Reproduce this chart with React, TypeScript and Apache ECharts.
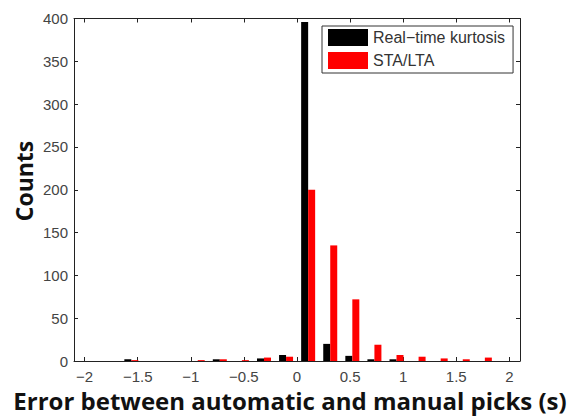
import React, { useEffect, useRef } from "react";
import * as echarts from "echarts";

const binCenters = [-1.56, -0.935, -0.727, -0.519, -0.311, -0.103, 0.105, 0.313, 0.521, 0.729, 0.937, 1.145, 1.353, 1.561, 1.769];
const kurtosisCounts = [2, 0, 2, 0, 3, 7, 396, 20, 6, 2, 2, 0, 0, 0, 0];
const staLtaCounts = [1, 1, 2, 1, 4, 5, 200, 135, 72, 19, 7, 5, 3, 2, 4];
const xTicks = [-2, -1.5, -1, -0.5, 0, 0.5, 1, 1.5, 2];
const seriesNames = ["Real\u2212time kurtosis", "STA/LTA"];
const xTitle = "Error between automatic and manual picks (s)";
const yTitle = "Counts";

const fmt = (v: number) => (v < 0 ? "\u2212" + String(Math.abs(v)) : String(v));

export default function App() {
  const ref = useRef<HTMLDivElement>(null);
  useEffect(() => {
    if (!ref.current) return;
    const chart = echarts.init(ref.current, null, { renderer: "svg" });
    const axisLine = { show: true, onZero: false, lineStyle: { color: "#222", width: 1 } };
    const tick = { show: true, inside: true, length: 4, lineStyle: { color: "#222" } };
    const labelStyle = { fontFamily: "Liberation Sans", fontSize: 15, color: "#444" };
    chart.setOption({
      animation: false,
      backgroundColor: "#fff",
      grid: { left: 74, right: 57, top: 18.5, bottom: 56, containLabel: false },
      legend: {
        orient: "vertical",
        left: 322,
        top: 26,
        itemWidth: 40,
        itemHeight: 17,
        itemGap: 6,
        padding: [3, 8, 4, 6],
        borderColor: "#333",
        borderWidth: 1,
        backgroundColor: "#fff",
        icon: "rect",
        textStyle: { fontFamily: "Liberation Sans", fontSize: 16, color: "#333" },
        data: seriesNames,
      },
      xAxis: [
        {
          type: "value",
          min: -2.1,
          max: 2.1,
          position: "bottom",
          axisLine,
          axisTick: { ...tick, customValues: xTicks },
          axisLabel: { ...labelStyle, margin: 8, customValues: xTicks, formatter: (v: number) => fmt(v) },
          splitLine: { show: false },
        },
        {
          type: "value",
          min: -2.1,
          max: 2.1,
          position: "top",
          axisLine,
          axisTick: { ...tick, customValues: xTicks },
          axisLabel: { show: false },
          splitLine: { show: false },
        },
      ],
      yAxis: [
        {
          type: "value",
          min: 0,
          max: 400,
          interval: 50,
          position: "left",
          axisLine,
          axisTick: tick,
          axisLabel: { ...labelStyle, margin: 6 },
          splitLine: { show: false },
        },
        {
          type: "value",
          min: 0,
          max: 400,
          interval: 50,
          position: "right",
          axisLine,
          axisTick: tick,
          axisLabel: { show: false },
          splitLine: { show: false },
        },
      ],
      series: [
        {
          name: seriesNames[0],
          type: "bar",
          xAxisIndex: 0,
          yAxisIndex: 0,
          barWidth: 7,
          barGap: "0%",
          itemStyle: { color: "#000" },
          data: binCenters.map((c, i) => [c, kurtosisCounts[i]]),
        },
        {
          name: seriesNames[1],
          type: "bar",
          xAxisIndex: 0,
          yAxisIndex: 0,
          barWidth: 7,
          barGap: "0%",
          itemStyle: { color: "#ff0000" },
          data: binCenters.map((c, i) => [c, staLtaCounts[i]]),
        },
      ],
      graphic: [
        {
          type: "text",
          x: 290,
          y: 400,
          style: {
            text: xTitle,
            font: "bold 24px 'Open Sans'",
            fill: "#111",
            textAlign: "center",
            textVerticalAlign: "middle",
          },
        },
        {
          type: "text",
          x: 24,
          y: 181,
          rotation: Math.PI / 2,
          style: {
            text: yTitle,
            font: "bold 23px 'Open Sans'",
            fill: "#111",
            textAlign: "center",
            textVerticalAlign: "middle",
          },
        },
      ],
    });
    return () => chart.dispose();
  }, []);
  return <div ref={ref} style={{ position: "absolute", left: 0, top: 0, width: 577, height: 417 }} />;
}
